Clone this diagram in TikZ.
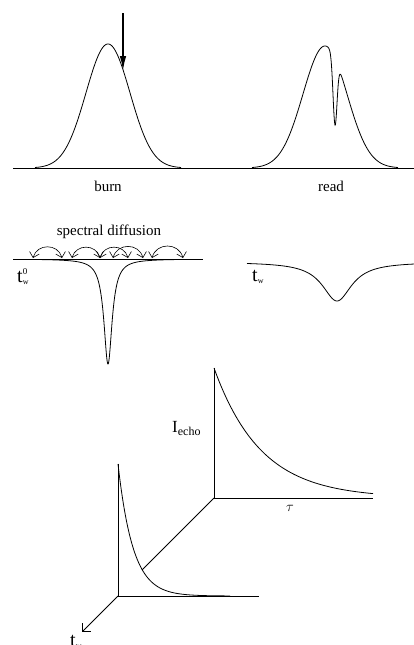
\documentclass[tikz,border=0pt]{standalone}
\usepackage{fontspec}
\setmainfont{Liberation Serif}
\usetikzlibrary{arrows.meta}

\newcommand{\bigt}{{\fontsize{20}{20}\selectfont t}}
\newcommand{\lowsub}[1]{\raisebox{-2.5pt}{\fontsize{8}{8}\selectfont #1}}
\newcommand{\highsup}[1]{\raisebox{8pt}{\fontsize{9}{9}\selectfont #1}}

\begin{document}
\begin{tikzpicture}[
    x=1pt, y=-1pt,
    font=\fontsize{15}{18}\selectfont,
    axis/.style={draw=black, line width=0.8pt},
    curve/.style={draw=black, line width=0.8pt},
    pump/.style={-{Latex[length=15pt, width=6.5pt]}, line width=1.8pt},
    hop/.style={{Straight Barb[length=5pt]}-{Straight Barb[length=5pt]},
                line width=0.6pt, bend left=75, looseness=1.35},
    lab/.style={inner sep=1pt},
  ]
    \useasboundingbox (0,0) rectangle (414,645);
    % --- burn and read --------------------------------------------------
    \coordinate (b0) at (13,168);
    \coordinate (b1) at (414,168);
    \draw[axis] (b0) -- (b1);
    \draw[curve] plot[domain=35:181, samples=150]
          (\x,{168-124*exp(-((\x-108)^2)/968)});
    \draw[curve] plot[domain=252:398, samples=500]
          (\x,{168-122*exp(-((\x-325)^2)/968)+67*exp(max(-30,-((\x-335)^2)/8))});
    \coordinate (ptop) at (123,13);
    \coordinate (ptip) at (123,71);
    \draw[pump] (ptop) -- (ptip);
    \node[lab] (burn) at (108,186) {burn};
    \node[lab] (read) at (331,186) {read};
    % --- spectral diffusion ---------------------------------------------
    \coordinate (d0) at (13,259);
    \coordinate (d1) at (203,259);
    \draw[axis] (d0) -- (d1);
    \draw[curve] plot[domain=40:176, samples=500]
          (\x,{259+105*25/((\x-108)^2+25)});
    \foreach \i/\a/\b in {1/33/62, 2/72/100, 3/100/128, 4/113/143, 5/152/183} {
      \coordinate (s\i) at (\a,258);
      \coordinate (e\i) at (\b,258);
    }
    \foreach \i in {1,...,5}
      \draw[hop] (s\i) to (e\i);
    \node[lab] (sd)  at (109,232) {spectral diffusion};
    \node[lab, anchor=base west] (tw0) at (16,282)
          {\bigt\rlap{\highsup{0}}\lowsub{w}};
    % --- later hole -----------------------------------------------------
    \draw[curve] plot[domain=247:414, samples=300]
          (\x,{262+39*324/((\x-337)^2+324)});
    \node[lab, anchor=base west] (tw1) at (251,281) {\bigt\lowsub{w}};
    % --- echo decays ----------------------------------------------------
    \coordinate (bo)   at (214,498);
    \coordinate (btop) at (214,368);
    \coordinate (bx)   at (373,498);
    \draw[axis] (btop) -- (bo) -- (bx);
    \draw[curve] plot[domain=214:373, samples=150]
          (\x,{498-130*exp(-(\x-214)/47)});
    \coordinate (fo)   at (118,596);
    \coordinate (ftop) at (118,464);
    \coordinate (fx)   at (259,596);
    \coordinate (fhit) at (142,570);
    \coordinate (tw)   at (82,632);
    \draw[axis] (ftop) -- (fo) -- (fx);
    \draw[curve] plot[domain=118:230, samples=200]
          (\x,{596-132*exp(-(\x-118)/15)});
    \draw[axis] (bo) -- (fhit);
    \draw[axis, -{Straight Barb[length=6pt]}] (fo) -- (tw);
    \node[lab, anchor=base west] (iecho) at (171,432)
          {{\fontsize{17}{17}\selectfont I}\raisebox{-3pt}{\fontsize{12}{12}\selectfont echo}};
    \node[lab] (tau)   at (290,508) {$\tau$};
    \node[lab, anchor=base west] (tw2) at (69,646) {\bigt\lowsub{w}};
  \end{tikzpicture}
\end{document}
